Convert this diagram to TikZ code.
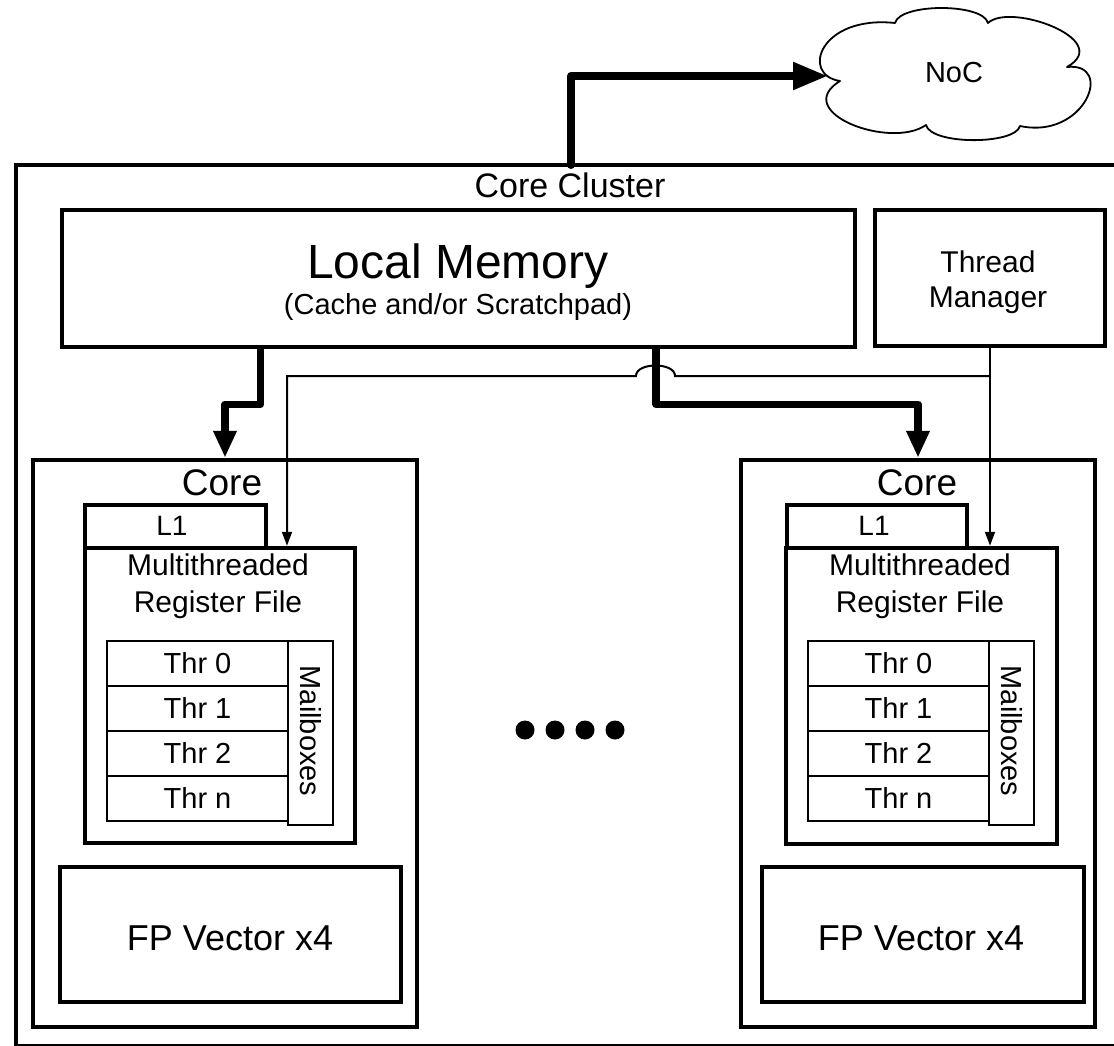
\documentclass[tikz,border=0pt]{standalone}
\usepackage{fontspec}
\setmainfont{Liberation Sans}
\usetikzlibrary{arrows.meta}
\newcommand\fsz[1]{\fontsize{#1pt}{#1pt}\selectfont}
\begin{document}
\begin{tikzpicture}[x=1pt,y=-1pt,
  box/.style={draw, line width=4.5pt, inner sep=0pt, rectangle},
  cell/.style={draw, line width=2pt, inner sep=0pt, rectangle},
  lbl/.style={inner sep=0pt, anchor=base},
  bus/.style={line width=7.5pt, line join=round, -{Triangle[length=27pt,width=22pt]}},
  nocbus/.style={line width=8pt, line join=round, line cap=round, -{Triangle[length=35pt,width=26pt]}},
  ctl/.style={line width=2pt, -{Triangle[length=14pt,width=10pt]}},
  cloudline/.style={draw, line width=1.8pt, line join=round, fill=white},
  dot/.style={circle, fill, inner sep=0pt, minimum size=19pt}]
\useasboundingbox (0,0) rectangle (1114,1046);
\fill[white] (0,0) rectangle (1114,1046);

% cluster frame
\node[box, minimum width=1102pt, minimum height=881pt] (cluster) at (567,605.5) {};
\node[lbl, font=\fsz{34}] (clusterlbl) at (570,197) {Core Cluster};

% network on chip: six-lobed cloud
\path[cloudline] (840,81)
  .. controls (800,75) and (820,15) .. (895,23)
  .. controls (900,3) and (983,3) .. (988,23)
  .. controls (1010,2) and (1115,40) .. (1067,67)
  .. controls (1115,62) and (1085,140) .. (1020,126)
  .. controls (1015,145) and (931,145) .. (926,125)
  .. controls (890,150) and (790,112) .. (840,81) -- cycle;
\node[lbl, font=\fsz{29}] (noc) at (954,83) {NoC};
\coordinate (nocin) at (828,76);

% shared memory and thread manager
\node[box, minimum width=793pt, minimum height=137pt] (lm) at (458.5,278.5) {};
\node[lbl, font=\fsz{48}] (lmtitle) at (458,278) {Local Memory};
\node[lbl, font=\fsz{29}] (lmsub) at (458,314) {(Cache and/or Scratchpad)};
\node[box, minimum width=230pt, minimum height=136pt] (tm) at (990,278) {};
\node[lbl, font=\fsz{30}] (tm1) at (988,272) {Thread};
\node[lbl, font=\fsz{30}] (tm2) at (988,307) {Manager};

% left core
\node[box, minimum width=384pt, minimum height=567pt] (coreL) at (225,743.5) {};
\node[lbl, font=\fsz{37}] (coreLlbl) at (222,495) {Core};
\node[box, minimum width=181pt, minimum height=43pt] (l1L) at (175.5,526.5) {};
\node[lbl, font=\fsz{28}] (l1Llbl) at (172,535) {L1};
\node[box, minimum width=270pt, minimum height=295pt] (mrfL) at (220,695.5) {};
\node[lbl, font=\fsz{30}] (mrfLa) at (218,575) {Multithreaded};
\node[lbl, font=\fsz{30}] (mrfLb) at (218,612) {Register File};
\foreach \i/\t in {0/0,1/1,2/2,3/n}{
  \node[cell, minimum width=181pt, minimum height=45pt] (thrL\i) at (197.5,{663.5+45*\i}) {};
  \node[lbl, font=\fsz{29}] (thrLt\i) at (197.5,{673+45*\i}) {Thr \t};
}
\node[cell, minimum width=45pt, minimum height=184pt] (mailL) at (310.5,733) {};
\node[font=\fsz{29}, rotate=-90, inner sep=0pt] (mailLtxt) at (311,731) {Mailboxes};
\node[box, minimum width=341pt, minimum height=135pt] (fpL) at (230.5,934.5) {};
\node[lbl, font=\fsz{36}] (fpLlbl) at (230,950) {FP Vector x4};

% right core
\node[box, minimum width=354pt, minimum height=567pt] (coreR) at (918,743.5) {};
\node[lbl, font=\fsz{37}] (coreRlbl) at (917,495) {Core};
\node[box, minimum width=180pt, minimum height=43pt] (l1R) at (877,526.5) {};
\node[lbl, font=\fsz{28}] (l1Rlbl) at (874,535) {L1};
\node[box, minimum width=271pt, minimum height=296pt] (mrfR) at (921.5,696) {};
\node[lbl, font=\fsz{30}] (mrfRa) at (920,575) {Multithreaded};
\node[lbl, font=\fsz{30}] (mrfRb) at (920,612) {Register File};
\foreach \i/\t in {0/0,1/1,2/2,3/n}{
  \node[cell, minimum width=181pt, minimum height=45pt] (thrR\i) at (898.5,{663.5+45*\i}) {};
  \node[lbl, font=\fsz{29}] (thrRt\i) at (898.5,{673+45*\i}) {Thr \t};
}
\node[cell, minimum width=45pt, minimum height=184pt] (mailR) at (1011.5,733) {};
\node[font=\fsz{29}, rotate=-90, inner sep=0pt] (mailRtxt) at (1012,731) {Mailboxes};
\node[box, minimum width=322pt, minimum height=135pt] (fpR) at (923,934.5) {};
\node[lbl, font=\fsz{36}] (fpRlbl) at (921,950) {FP Vector x4};

% ellipsis between the cores
\foreach \k in {0,1,2,3}
  \node[dot] (dot\k) at ({525+30*\k},730) {};

% memory buses
\draw[bus] ([xshift=-198pt]lm.south) -- ++(0,55) -| (coreL.north);
\draw[bus] ([xshift=197.5pt]lm.south) -- ++(0,55) -| (coreR.north);

% cluster to network
\coordinate (nocport) at (571,165);
\draw[nocbus] (nocport) |- (nocin);

% thread manager control lines, hopping over the right bus
\coordinate (tap) at (990,376);
\draw[ctl] (tm.south) -- (tm.south |- mrfR.north);
\draw[ctl] (tap) -- (675,376) .. controls (675,362) and (636,362) .. (636,376)
  -| (mailL.west |- mrfL.north);
\end{tikzpicture}
\end{document}
